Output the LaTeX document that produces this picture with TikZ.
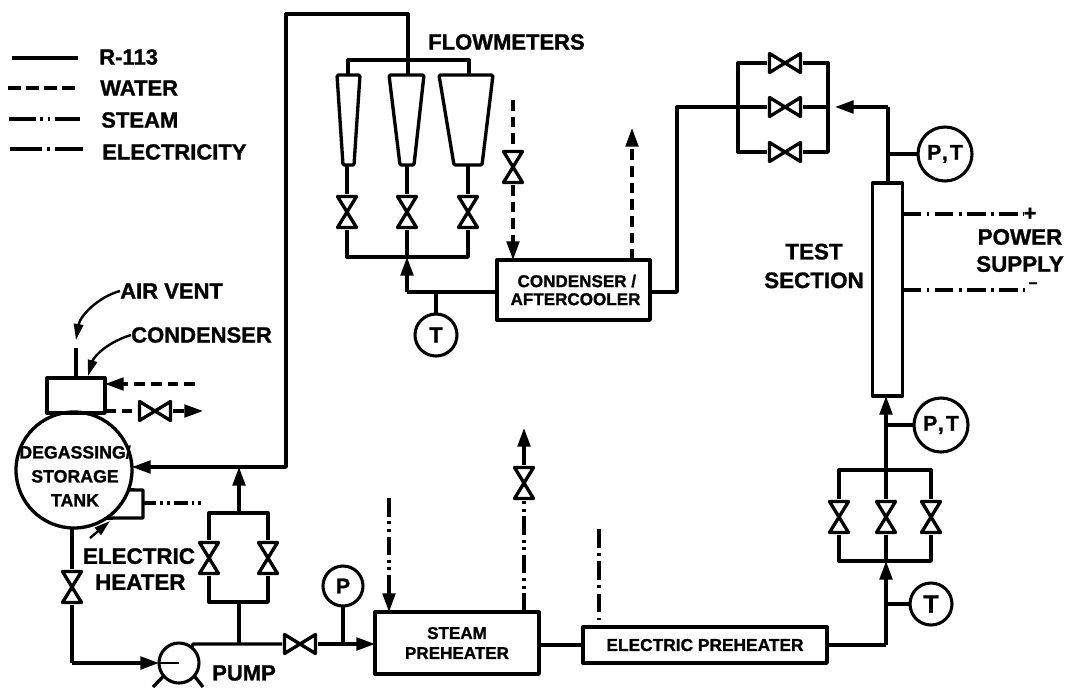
\documentclass[tikz,border=0pt]{standalone}
\usepackage{fontspec}
\setmainfont[BoldFeatures={FakeBold=1.2}]{Liberation Sans}
\usetikzlibrary{arrows.meta}
\def\px{0.75pt}
\newcommand\fsz[2]{\fontsize{#1}{#2}\selectfont\bfseries}
\tikzset{
  pipeline/.style={line width=2.5pt,line join=round},
  flow/.style={-{Triangle[length=14pt,width=9.5pt]}},
  water/.style={pipeline,line width=2.3pt,dash pattern=on 8pt off 4.5pt},
  steam/.style={pipeline,line width=2.3pt,dash pattern=on 14pt off 3.5pt on 2.2pt off 3.5pt on 2.2pt off 3.5pt},
  elec/.style={pipeline,line width=2.3pt,dash pattern=on 14pt off 4pt on 2.2pt off 4pt},
  legendline/.style={pipeline,line width=2.3pt},
  thinarrow/.style={line width=1.8pt,-{Triangle[length=12pt,width=7pt]}},
  box/.style={draw,pipeline,inner sep=0pt,outer sep=0pt,align=center},
  gauge/.style={draw,circle,line width=2.3pt,inner sep=0pt,outer sep=0pt,fill=white},
  biglab/.style={inner sep=0pt,align=center,font=\fsz{16.5}{21.5}},
  vvalve/.style={inner sep=0pt,outer sep=0pt,minimum width=24*\px,minimum height=36*\px,
    path picture={\draw[pipeline]
      ([shift={(2.5,2.5)}]path picture bounding box.north west) --
      ([shift={(-2.5,2.5)}]path picture bounding box.north east) --
      ([shift={(2.5,-2.5)}]path picture bounding box.south west) --
      ([shift={(-2.5,-2.5)}]path picture bounding box.south east) -- cycle;}},
  hvalve/.style={inner sep=0pt,outer sep=0pt,minimum width=36*\px,minimum height=24*\px,
    path picture={\draw[pipeline]
      ([shift={(2.5,2.5)}]path picture bounding box.north west) --
      ([shift={(2.5,-2.5)}]path picture bounding box.south west) --
      ([shift={(-2.5,2.5)}]path picture bounding box.north east) --
      ([shift={(-2.5,-2.5)}]path picture bounding box.south east) -- cycle;}},
  meter/.style={pipeline,rounded corners=1pt},
}
\begin{document}
\begin{tikzpicture}[x=0.75pt,y=-0.75pt]
\useasboundingbox (0,0) rectangle (1070,687);

% legend
\coordinate (la1) at (12,58); \coordinate (la2) at (78,58);
\coordinate (lb1) at (8,88); \coordinate (lb2) at (78,88);
\coordinate (lc1) at (9,119); \coordinate (lc2) at (80,119);
\coordinate (ld1) at (10,149); \coordinate (ld2) at (83,149);
\draw[legendline] (la1) -- (la2);
\draw[legendline,dash pattern=on 10pt off 3.5pt] (lb1) -- (lb2);
\draw[legendline,dash pattern=on 20pt off 3.5pt on 2pt off 3.5pt on 2pt off 3.5pt] (lc1) -- (lc2);
\draw[legendline,dash pattern=on 24pt off 4pt on 2pt off 4pt] (ld1) -- (ld2);
\node[biglab,anchor=west] (tr) at (99,57) {R-113};
\node[biglab,anchor=west] (tw) at (100,88) {WATER};
\node[biglab,anchor=west] (ts) at (101,120) {STEAM};
\node[biglab,anchor=west] (te) at (102,152) {ELECTRICITY};

% tank group
\node[box,circle,minimum size=116*\px] (tank) at (74,470) {};
\node[inner sep=0pt,align=center,font=\fsz{13.3}{18}] (tanklab) at (75,476) {DEGASSING/\\STORAGE\\TANK};
\node[box,minimum width=58*\px,minimum height=35*\px] (cond) at (76,395.5) {};
\coordinate (vent) at (76,348);
\draw[pipeline] (vent) -- (vent |- cond.north);
\node[biglab,anchor=west] (airvent) at (120,291) {AIR VENT};
\node[biglab,anchor=west] (condlab) at (131,335) {CONDENSER};
\coordinate (ventgap) at (76,340);
\coordinate (condtip) at (88,376);
\draw[thinarrow] (airvent.west) .. controls (98,297) and (80,316) .. (ventgap);
\draw[thinarrow] (condlab.west) .. controls (108,342) and (94,356) .. (condtip);
\coordinate (wi) at (195,384);
\draw[water,flow] (wi) -- (wi -| cond.east);
\node[hvalve] (vout) at (155,411) {};
\coordinate (wo) at (203,411);
\draw[water] (vout.west -| cond.east) -- (vout.west);
\draw[water,flow] (vout.east) -- (wo);
% heater
\coordinate (hc1) at (143,490); \coordinate (hc2) at (143,518);
\draw[pipeline] (tank.-20) -- (hc1) -- (hc2) -- (tank.-56);
\coordinate (hw) at (143,503); \coordinate (hwe) at (202,503);
\draw[steam,dash pattern=on 10pt off 3pt on 2.2pt off 3pt on 2.2pt off 3pt] (hw) -- (hwe);
\coordinate (hl) at (90,538); \coordinate (hlt) at (110,521);
\draw[thinarrow] (hl) -- (hlt);
\node[biglab,font=\fsz{16.8}{19.5}] (ehlab) at (139,569) {ELECTRIC\\\hspace*{2pt}HEATER};
% drain valve and pump
\node[vvalve] (vd) at (72,587) {};
\node[gauge,minimum size=40*\px] (pump) at (179,663) {};
\coordinate (pl) at (72,663);
\draw[pipeline] (vd.north |- tank.south) -- (vd.north);
\draw[pipeline] (vd.south) -- (pl);
\draw[pipeline,flow] (pl) -- (pump.west);
\draw[pipeline,line width=1.8pt] (pump.west) -- (pump.center);
\coordinate (l1) at (153,687); \coordinate (l2) at (203,687);
\draw[pipeline] (pump.-140) -- (l1);
\draw[pipeline] (pump.-40) -- (l2);
\node[biglab,anchor=west] (pumplab) at (212,673) {PUMP};

% bypass
\coordinate (b0) at (239,644);
\coordinate (bb) at (239,602);
\coordinate (bbl) at (209,602); \coordinate (bbr) at (268,602);
\coordinate (btl) at (209,513); \coordinate (btr) at (268,513);
\coordinate (bt) at (239,513);
\node[vvalve] (vb1) at (209,558) {};
\node[vvalve] (vb2) at (268,558) {};
\draw[pipeline] (b0) -- (bb);
\draw[pipeline] (vb1.south) -- (bbl) -- (bbr) -- (vb2.south);
\draw[pipeline] (vb1.north) -- (btl) -- (btr) -- (vb2.north);
\coordinate (btip) at (239,467);
\draw[pipeline,flow] (bt) -- (btip);
% main return
\coordinate (r1) at (286,467);
\coordinate (r2) at (286,14);
\coordinate (r3) at (408,14);
\coordinate (r4) at (408,75);
\draw[pipeline] (r4) -- (r3) -- (r2) -- (r1) -- (btip);
\draw[pipeline,flow] (btip) -- (tank.east |- btip);

% pump outlet
\node[hvalve] (vp) at (300,644) {};
\coordinate (po) at (193,644);
\draw[pipeline] (pump.50) -- (po) -- (vp.west);
\node[box,minimum width=164*\px,minimum height=62*\px,font=\fsz{12.8}{15}] (steamph) at (457,643) {STEAM\\PREHEATER};
\draw[pipeline,flow] (vp.east) -- (vp.east -| steamph.west);
\node[gauge,minimum size=40*\px] (pg) at (343,586) {\fsz{16}{18}P};
\draw[pipeline] (pg.south) -- (pg.south |- vp.east);
\coordinate (si) at (389,498);
\draw[steam,flow] (si) -- (si |- steamph.north);
\node[vvalve] (vs) at (524,483) {};
\coordinate (sot) at (524,428);
\draw[steam] (vs.south |- steamph.north) -- (vs.south);
\draw[pipeline,flow] (vs.north) -- (sot);
\node[box,minimum width=244*\px,minimum height=36*\px,font=\fsz{13}{15}] (elecph) at (705,645) {ELECTRIC PREHEATER};
\draw[pipeline] (steamph.east |- elecph.west) -- (elecph.west);
\coordinate (ee) at (599,529);
\draw[elec] (ee) -- (ee |- elecph.north);
\coordinate (ex) at (886,645);
\draw[pipeline] (elecph.east) -- (ex);

% lower manifold
\node[gauge,minimum size=42*\px] (t2) at (931,604) {\fsz{19}{20}T};
\coordinate (mb) at (886,561);
\draw[pipeline,flow] (ex) -- (mb);
\draw[pipeline] (t2.west) -- (t2.west -| ex);
\node[vvalve] (vm1) at (839,517) {};
\node[vvalve] (vm2) at (886,517) {};
\node[vvalve] (vm3) at (931,517) {};
\coordinate (mbl) at (839,561); \coordinate (mbr) at (931,561);
\coordinate (mtl) at (839,470); \coordinate (mtr) at (931,470);
\coordinate (mt) at (886,470);
\draw[pipeline] (vm1.south) -- (mbl) -- (mbr) -- (vm3.south);
\draw[pipeline] (vm2.south) -- (mb);
\draw[pipeline] (vm1.north) -- (mtl) -- (mtr) -- (vm3.north);
\draw[pipeline] (vm2.north) -- (mt);
\node[box,fill=white,minimum width=30*\px,minimum height=213*\px] (test) at (887.5,289.5) {};
\draw[pipeline,flow] (mt) -- (mt |- test.south);
\node[gauge,minimum size=54*\px] (pt2) at (941,425) {\fsz{16}{18}P\hspace{.5pt},\hspace{1.5pt}T};
\draw[pipeline] (pt2.west) -- (pt2.west -| mt);

% test section and power supply
\node[biglab,font=\fsz{16.8}{21.5}] (testlab) at (814,266) {TEST\\SECTION};
\node[biglab,font=\fsz{16.8}{20}] (powerlab) at (1020,237) {POWER};
\node[biglab,font=\fsz{16.8}{20}] (supplylab) at (1020,264) {SUPPLY};
\node[inner sep=0pt,font=\fsz{16}{18}] (plus) at (1030,214) {+};
\node[inner sep=0pt,font=\fsz{12}{14}] (minus) at (1033,285) {--};
\draw[elec] (test.east |- plus.west) -- (plus.west);
\coordinate (mn) at (1025,290);
\draw[elec] (test.east |- mn) -- (mn);
\node[gauge,minimum size=54*\px] (pt1) at (945,154) {\fsz{16}{18}P\hspace{.5pt},\hspace{1.5pt}T};
\coordinate (u1) at (888,107);
\draw[pipeline] (u1) -- (u1 |- test.north);
\draw[pipeline] (pt1.west) -- (pt1.west -| u1);

% upper manifold
\node[hvalve] (vu1) at (785,63) {};
\node[hvalve] (vu2) at (785,107) {};
\node[hvalve] (vu3) at (785,152) {};
\coordinate (ul1) at (738,63); \coordinate (ul3) at (738,152);
\coordinate (ur1) at (828,63); \coordinate (ur3) at (828,152);
\coordinate (um) at (828,107);
\coordinate (ux) at (677,107);
\node[box,minimum width=153*\px,minimum height=60*\px,font=\fsz{12.8}{13.5}] (after) at (573.5,290) {\hspace*{5pt}CONDENSER /\\\hspace*{3pt}AFTERCOOLER};
\coordinate (ay) at (677,292);
\draw[pipeline] (vu1.west) -- (ul1) -- (ul3) -- (vu3.west);
\draw[pipeline] (vu1.east) -- (ur1) -- (ur3) -- (vu3.east);
\draw[pipeline] (after.east |- ay) -- (ay) -- (ux) -- (vu2.west);
\draw[pipeline] (um) -- (vu2.east);
\draw[pipeline,flow] (u1) -- (835,107);

% water for condenser/aftercooler
\coordinate (wa) at (513,100);
\node[vvalve] (vw) at (513,167) {};
\draw[water] (wa) -- (vw.north);
\draw[water,flow] (vw.south) -- (vw.south |- after.north);
\coordinate (wb) at (632,128);
\draw[water,flow] (wb |- after.north) -- (wb);

% flowmeters
\node[biglab,anchor=west] (fmlab) at (428,42) {FLOWMETERS};
\draw[meter] (337,75) coordinate (f1t) -- (360,75) -- (354,165) coordinate (f1b) -- (343,165) -- cycle;
\draw[meter] (389,75) coordinate (f2t) -- (424,75) -- (414,165) coordinate (f2b) -- (400,165) -- cycle;
\draw[meter] (439,75) coordinate (f3t) -- (493,75) -- (482,165) coordinate (f3b) -- (454,165) -- cycle;
\coordinate (mf1) at (348,60); \coordinate (mf3) at (469,60);
\draw[pipeline] (348,75) -- (mf1) -- (mf3) -- (469,75);
\node[vvalve] (vf1) at (347,212) {};
\node[vvalve] (vf2) at (407,212) {};
\node[vvalve] (vf3) at (468,212) {};
\draw[pipeline] (vf1.north |- f1b) -- (vf1.north);
\draw[pipeline] (vf2.north |- f2b) -- (vf2.north);
\draw[pipeline] (vf3.north |- f3b) -- (vf3.north);
\coordinate (fbl) at (347,257); \coordinate (fbr) at (468,257); \coordinate (fbm) at (407,257);
\draw[pipeline] (vf1.south) -- (fbl) -- (fbr) -- (vf3.south);
\draw[pipeline] (vf2.south) -- (fbm);
\coordinate (fi) at (407,292);
\draw[pipeline,flow] (fi) -- (fbm);
\draw[pipeline] (after.west |- fi) -- (fi);
\node[gauge,minimum size=42*\px] (t1) at (436,335) {\fsz{16.5}{18}T};
\draw[pipeline,line width=2.3pt] (t1.north) -- (t1.north |- fi);
\end{tikzpicture}
\end{document}
